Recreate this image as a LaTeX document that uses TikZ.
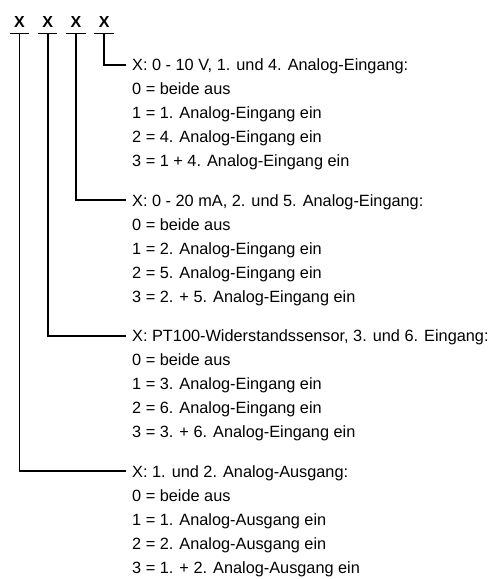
\documentclass[tikz,border=0pt]{standalone}
\usepackage{fontspec}
\setmainfont{Liberation Sans}
\begin{document}
\begin{tikzpicture}[x=1pt, y=-1pt,
    sel/.style={font=\bfseries\fontsize{16}{16}\selectfont, inner sep=0pt,
      minimum width=19pt, text height=11pt, text depth=6pt, anchor=base},
    desc/.style={font=\fontsize{16.3}{24}\selectfont, inner xsep=6pt,
      inner ysep=0pt, text height=11.4pt, text depth=0pt, anchor=base west},
    wire/.style={line width=1.9pt}]
  \useasboundingbox (0,0) rectangle (501,579);
  % the four digits, each underlined
  \foreach \i in {1,...,4} {
    \node[sel] (x\i) at ({19.5+28.2*(\i-1)},27.3) {X};
    \draw[wire] (x\i.south west) -- (x\i.south east);
  }
  % one block of text per digit
  \node[desc] (h1) at (126,70.7) {X: 0 - 10 V, 1. und 4. Analog-Eingang:};
  \node[desc] (h2) at (126,206.1) {X: 0 - 20 mA, 2. und 5. Analog-Eingang:};
  \node[desc] (h3) at (126,341.5) {X: PT100-Widerstandssensor, 3. und 6. Eingang:};
  \node[desc] (h4) at (126,477) {X: 1. und 2. Analog-Ausgang:};
  \foreach \t [count=\k] in {0 = beide aus, 1 = 1. Analog-Eingang ein,
      2 = 4. Analog-Eingang ein, 3 = 1 + 4. Analog-Eingang ein}
    \node[desc] (a\k) at ([yshift={-\k*24pt}]h1.base west) {\t};
  \foreach \t [count=\k] in {0 = beide aus, 1 = 2. Analog-Eingang ein,
      2 = 5. Analog-Eingang ein, 3 = 2. + 5. Analog-Eingang ein}
    \node[desc] (b\k) at ([yshift={-\k*24pt}]h2.base west) {\t};
  \foreach \t [count=\k] in {0 = beide aus, 1 = 3. Analog-Eingang ein,
      2 = 6. Analog-Eingang ein, 3 = 3. + 6. Analog-Eingang ein}
    \node[desc] (c\k) at ([yshift={-\k*24pt}]h3.base west) {\t};
  \foreach \t [count=\k] in {0 = beide aus, 1 = 1. Analog-Ausgang ein,
      2 = 2. Analog-Ausgang ein, 3 = 1. + 2. Analog-Ausgang ein}
    \node[desc] (d\k) at ([yshift={-\k*24pt}]h4.base west) {\t};
  % leaders from the digits to their blocks
  \draw[wire] (x4.south) |- (h1.west);
  \draw[wire] (x3.south) |- (h2.west);
  \draw[wire] (x2.south) |- (h3.west);
  \draw[wire] (x1.south) |- (h4.west);
\end{tikzpicture}
\end{document}
